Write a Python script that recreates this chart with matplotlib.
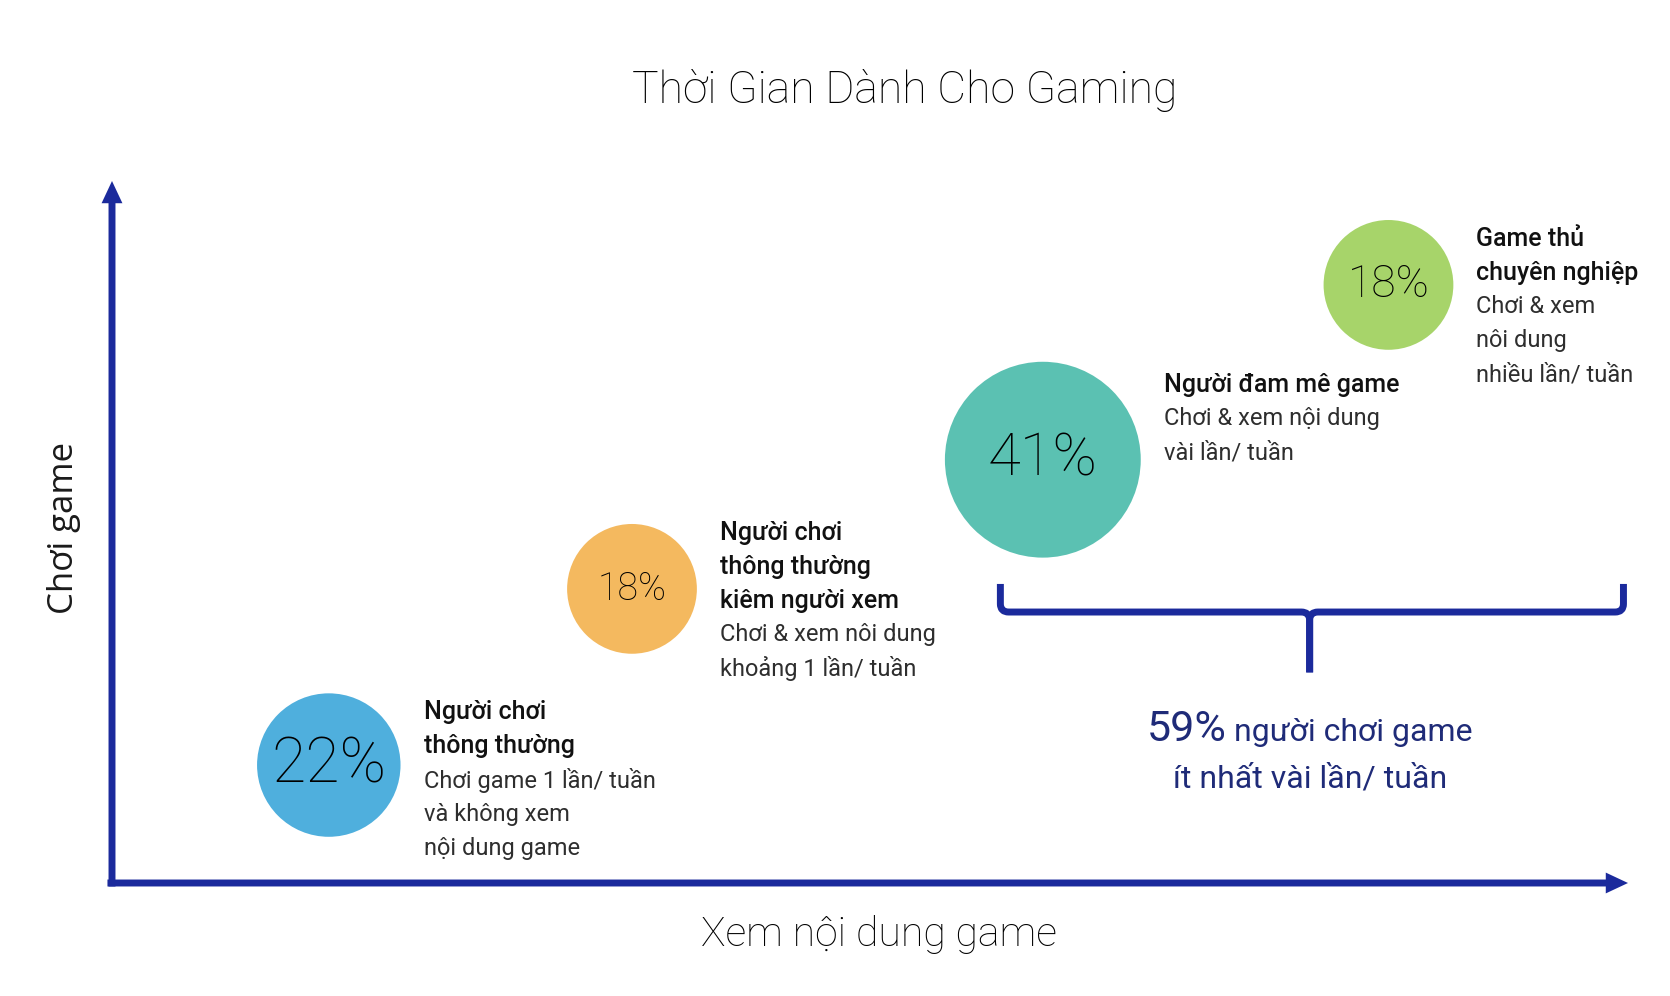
import matplotlib
matplotlib.use("Agg")
import numpy as np
import matplotlib.pyplot as plt
from matplotlib.path import Path
from matplotlib.patches import PathPatch
from matplotlib.transforms import IdentityTransform

plt.rcParams['font.family'] = ['Roboto', 'DejaVu Sans']

# data: share of gamers per segment, placed by how much they play (y) / watch (x)
shares = [22, 18, 41, 18]
watch_level = [1.43, 3.43, 6.14, 8.42]
play_level = [1.68, 4.19, 6.03, 8.52]
titles = [
    ["Người chơi", "thông thường"],
    ["Người chơi", "thông thường", "kiêm người xem"],
    ["Người đam mê game"],
    ["Game thủ", "chuyên nghiệp"],
]
notes = [
    ["Chơi game 1 lần/ tuần", "và không xem", "nội dung game"],
    ["Chơi & xem nôi dung", "khoảng 1 lần/ tuần"],
    ["Chơi & xem nội dung", "vài lần/ tuần"],
    ["Chơi & xem", "nôi dung", "nhiều lần/ tuần"],
]
brace_pct = 59
brace_text = ["người chơi game", "ít nhất vài lần/ tuần"]

# styles
colors = ["#4FAFDD", "#F4B95F", "#5BC1B2", "#A7D46A"]
pct_sizes = [45, 27, 43, 32]
first_dy = [53, 56, 75, 46]
navy = "#1B2A9C"
text_navy = "#1F2B78"

fig = plt.figure(figsize=(16.7, 9.96), dpi=100)
ax = fig.add_axes([112 / 1670, 113 / 996, 1516 / 1670, 702 / 996])
ax.set_xlim(0, 10)
ax.set_ylim(0, 10)
ax.axis('off')

# axis arrows
arrow = dict(arrowstyle="simple,head_length=16,head_width=15,tail_width=5",
             mutation_scale=1, color=navy, lw=0, shrinkA=0, shrinkB=0)
ax.annotate("", xy=(0, 1), xytext=(0, -0.005), xycoords='axes fraction', arrowprops=arrow)
ax.annotate("", xy=(1, 0), xytext=(-0.003, 0), xycoords='axes fraction', arrowprops=arrow)

k = 485
ax.scatter(watch_level, play_level, s=[k * p for p in shares], c=colors,
           edgecolors='none', clip_on=False, zorder=3)

line_h = 34
for i, p in enumerate(shares):
    x, y = watch_level[i], play_level[i]
    ax.text(x, y, f"{p}%", ha='center', va='center', fontsize=pct_sizes[i],
            fontweight='light', color='#000000', zorder=4)
    r_px = np.sqrt(k * p) / 2 / 0.72
    lines = [(t, 'medium', 18, '#111111') for t in titles[i]] + \
            [(t, 'normal', 17, '#2e2e2e') for t in notes[i]]
    for j, (t, w, fs, c) in enumerate(lines):
        ax.annotate(t, xy=(x, y), xytext=(r_px + 23, first_dy[i] - j * line_h),
                    textcoords='offset pixels', ha='left', va='center',
                    fontsize=fs, fontweight=w, color=c)

# brace over the two top segments
bx0, bx1, bxc = 5.86, 9.97, 7.90
by_tip, by_h, by_end = 4.26, 3.86, 3.0
rx, ry = 0.055, 0.115
for x0, s in [(bx0, 1), (bx1, -1)]:
    verts = [(x0, by_tip), (x0, by_h + ry), (x0, by_h), (x0 + s * rx, by_h),
             (bxc - s * rx, by_h), (bxc, by_h), (bxc, by_h - ry), (bxc, by_end)]
    codes = [Path.MOVETO, Path.LINETO, Path.CURVE3, Path.CURVE3,
             Path.LINETO, Path.CURVE3, Path.CURVE3, Path.LINETO]
    ax.add_patch(PathPatch(Path(verts, codes), fill=False, lw=5, color=navy,
                           capstyle='butt', joinstyle='round', clip_on=False))

fig.canvas.draw()
renderer = fig.canvas.get_renderer()
cx, _ = ax.transData.transform((bxc, 0))
t1 = fig.text(0, 996 - 741, f"{brace_pct}%", transform=IdentityTransform(),
              fontsize=31, color=text_navy, va='baseline')
t2 = fig.text(0, 996 - 741, " " + brace_text[0], transform=IdentityTransform(),
              fontsize=23, color=text_navy, va='baseline')
w1 = t1.get_window_extent(renderer).width
w2 = t2.get_window_extent(renderer).width
x_start = cx - (w1 + w2) / 2
t1.set_x(x_start)
t2.set_x(x_start + w1)
fig.text(cx, 996 - 787, brace_text[1], transform=IdentityTransform(),
         fontsize=23, color=text_navy, ha='center', va='baseline')

fig.text(905 / 1670, 1 - 91 / 996, "Thời Gian Dành Cho Gaming", ha='center', va='center',
         fontsize=32, fontweight='light', color='#000000')
fig.text(64 / 1670, 1 - 528 / 996, "Chơi game", rotation=90, ha='center', va='center',
         fontsize=25, color='#1a1a1a', family=['Open Sans', 'DejaVu Sans'])
fig.text(879 / 1670, 1 - 934 / 996, "Xem nội dung game", ha='center', va='center',
         fontsize=29.5, fontweight='light', color='#000000')

fig.savefig("out.png", dpi=100, facecolor='white')
